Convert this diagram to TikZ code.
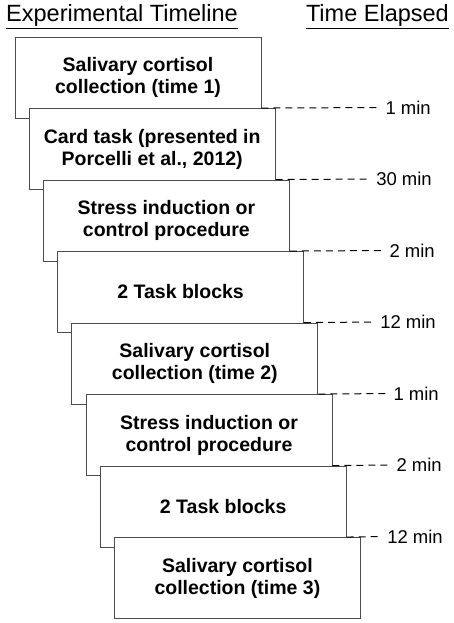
\documentclass[tikz,border=0pt]{standalone}
\usepackage{fontspec}
\setmainfont{Liberation Sans}
\usepackage{tikz}

\tikzset{
    stagebox/.style={draw=black!70, fill=white, line width=0.9pt,
        minimum width=246pt, minimum height=81pt, align=center,
        font=\fontsize{19.5}{22}\selectfont\bfseries},
    elapsed/.style={anchor=east, inner sep=0pt, font=\fontsize{18.5}{20}\selectfont},
    gapline/.style={dash pattern=on 7pt off 5pt, line width=1pt, shorten >=6pt},
    header/.style={inner sep=0pt, font=\fontsize{23.5}{26}\selectfont}
}

\begin{document}
\begin{tikzpicture}[x=1pt,y=-1pt]
    \useasboundingbox (0,0) rectangle (454,623);

    % Column headings
    \node[header, anchor=base west] (timeline) at (6,22) {\underline{Experimental Timeline}};
    \node[header, anchor=base east] (elapsedhd) at (449,22) {\underline{Time Elapsed}};

    % Stacked stages (each one shifted right and down)
    \node[stagebox] (s1) at (138.0,77.5) {Salivary cortisol\\collection (time 1)};
    \node[stagebox] (s2) at (152.2,149.0) {Card task (presented in\\Porcelli et al., 2012)};
    \node[stagebox] (s3) at (166.4,220.5) {Stress induction or\\control procedure};
    \node[stagebox] (s4) at (180.6,292.0) {2 Task blocks};
    \node[stagebox] (s5) at (194.8,363.5) {Salivary cortisol\\collection (time 2)};
    \node[stagebox] (s6) at (209.0,435.0) {Stress induction or\\control procedure};
    \node[stagebox] (s7) at (223.2,506.5) {2 Task blocks};
    \node[stagebox] (s8) at (237.4,578.0) {Salivary cortisol\\collection (time 3)};

    % Elapsed time labels
    \node[elapsed] (t1) at (431,107.5) {1 min};
    \node[elapsed] (t2) at (432,179.0) {30 min};
    \node[elapsed] (t3) at (435,250.5) {2 min};
    \node[elapsed] (t4) at (436,322.0) {12 min};
    \node[elapsed] (t5) at (439,393.5) {1 min};
    \node[elapsed] (t6) at (442,465.0) {2 min};
    \node[elapsed] (t7) at (443,536.5) {12 min};

    % Dashed leaders from each stage to its time
    \foreach \i/\j in {1/2,2/3,3/4,4/5,5/6,6/7,7/8}
        \draw[gapline] (s\i.east |- s\j.north) -- (t\i.west);
\end{tikzpicture}
\end{document}
